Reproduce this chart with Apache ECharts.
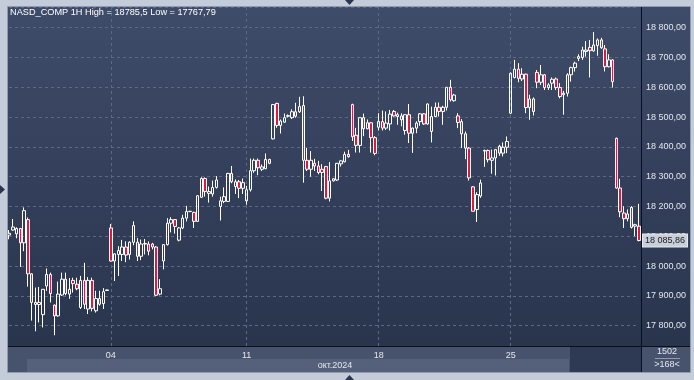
<!DOCTYPE html>
<html>
<head>
<meta charset="utf-8">
<script src="https://cdn.jsdelivr.net/npm/echarts@6/dist/echarts.min.js"></script>
<style>
html,body{margin:0;padding:0;background:#c3ccd8;}
#chart{width:694px;height:380px;}
</style>
</head>
<body>
<div id="chart"></div>
<script>
// ---- data (NASD_COMP, 1H bars, 168 visible) ----
const opens = [
18104,18121,18108,18126,18078,18156,17974,17878,17871,17837,
17933,17972,17869,17833,17903,17956,17906,17952,17939,17861,
17952,17856,17952,17850,17891,17874,17918,18128,18017,18039,
18039,18064,18039,18080,18080,18033,18074,18074,18074,18064,
17906,18017,18072,18144,18156,18087,18128,18161,18183,18180,
18150,18231,18294,18244,18242,18264,18200,18217,18217,18311,
18267,18283,18261,18219,18256,18320,18355,18325,18327,18358,
18427,18546,18472,18483,18503,18498,18518,18518,18539,18355,
18325,18345,18336,18325,18334,18228,18286,18289,18343,18350,
18375,18542,18439,18405,18498,18461,18481,18431,18466,18485,
18463,18477,18519,18502,18504,18455,18508,18446,18463,18485,
18511,18477,18452,18502,18533,18519,18533,18600,18555,18504,
18485,18444,18396,18266,18190,18235,18386,18388,18355,18363,
18402,18379,18399,18513,18633,18661,18628,18644,18532,18561,
18650,18617,18642,18599,18614,18628,18599,18575,18580,18642,
18666,18697,18700,18720,18734,18722,18740,18759,18729,18669,
18692,18429,18262,18178,18159,18197,18134,18134
];
const closes = [
18110,18131,18126,18078,18186,17974,17878,17871,17878,17922,
17972,17908,17833,17906,17956,17908,17922,17941,17924,17952,
17872,17952,17858,17891,17872,17914,17920,18017,18041,18052,
18064,18037,18080,18136,18033,18074,18076,18050,18064,17902,
17924,18072,18144,18156,18133,18128,18161,18183,18184,18150,
18236,18294,18250,18250,18264,18289,18219,18233,18311,18283,
18283,18261,18280,18256,18320,18355,18330,18333,18358,18345,
18542,18472,18487,18498,18505,18518,18503,18535,18355,18325,
18355,18336,18314,18314,18228,18286,18293,18345,18353,18375,
18367,18434,18405,18498,18461,18481,18431,18378,18485,18463,
18480,18510,18504,18508,18491,18508,18446,18463,18480,18511,
18477,18544,18502,18533,18519,18533,18600,18558,18574,18482,
18444,18396,18296,18184,18240,18279,18388,18357,18363,18391,
18379,18399,18418,18647,18661,18630,18644,18532,18561,18519,
18617,18642,18599,18608,18627,18599,18569,18580,18642,18666,
18681,18703,18725,18725,18723,18742,18759,18733,18669,18692,
18619,18262,18182,18159,18175,18130,18139,18085.86
];
const lows = [
18090,18119,18093,17997,18050,17931,17817,17781,17811,17794,
17917,17878,17767.79,17830,17900,17902,17890,17911,17919,17856,
17856,17839,17848,17844,17867,17856,17917,18015,17950,17967,
18017,18013,18022,18070,18017,18020,18039,18036,18056,17900,
17902,17989,18069,18113,18109,18083,18124,18150,18181,18128,
18148,18229,18233,18213,18233,18260,18153,18211,18215,18278,
18242,18228,18242,18206,18250,18313,18305,18319,18325,18342,
18425,18464,18445,18481,18499,18494,18498,18514,18280,18319,
18300,18319,18308,18252,18224,18217,18284,18286,18334,18348,
18364,18420,18381,18381,18436,18459,18381,18372,18455,18455,
18457,18455,18502,18474,18469,18441,18413,18380,18446,18471,
18474,18474,18415,18500,18502,18474,18522,18552,18552,18463,
18396,18359,18287,18184,18148,18229,18333,18348,18310,18304,
18370,18368,18379,18510,18630,18617,18621,18513,18491,18505,
18597,18608,18591,18591,18591,18591,18563,18508,18569,18619,
18653,18688,18692,18703,18633,18720,18706,18729,18653,18667,
18599,18260,18164,18128,18150,18126,18100,18083
];
const highs = [
18121,18158,18130,18128,18197,18163,17976,17928,17930,17923,
17992,17978,17871,17948,17978,17978,17960,17961,17961,17967,
18011,17963,17961,17917,17917,17926,17921,18141,18043,18067,
18088,18083,18083,18150,18094,18089,18091,18083,18078,18067,
17956,18074,18161,18164,18158,18131,18172,18202,18185,18183,
18238,18298,18298,18267,18287,18302,18233,18264,18313,18336,
18291,18289,18294,18269,18361,18361,18361,18341,18378,18360,
18544,18548,18492,18512,18509,18526,18548,18568,18570,18397,
18386,18360,18353,18342,18336,18349,18295,18346,18355,18384,
18390,18545,18464,18498,18512,18492,18483,18436,18513,18522,
18519,18524,18524,18515,18513,18508,18544,18465,18486,18513,
18513,18546,18535,18549,18549,18538,18600,18625,18578,18513,
18493,18452,18399,18268,18248,18290,18391,18391,18391,18391,
18407,18415,18435,18650,18692,18681,18664,18646,18575,18566,
18658,18675,18644,18614,18633,18633,18614,18588,18647,18669,
18686,18711,18736,18755,18759,18785.5,18764,18766,18742,18711,
18694,18431,18293,18201,18190,18201,18142,18209
];
// category per hourly bar
const categories = opens.map((_, i) => 'bar ' + (i + 1));
// day ticks on the time axis
const tickIndex  = [27, 63, 98, 133];
const tickLabels = ['04', '11', '18', '25'];
const monthLabel = 'окт.2024';
const titleText = 'NASD_COMP 1H High = 18785,5 Low = 17767,79';
const barsTotalText = '1502';
const barsVisibleText = '>168<';

// ---- build ----
function fmt(v) {
  const s = Number(v).toFixed(2).split('.');
  return s[0].replace(/\B(?=(\d{3})+(?!\d))/g, ' ') + ',' + s[1];
}
const candleData = opens.map((o, i) => [o, closes[i], lows[i], highs[i]]);
const lastClose = closes[closes.length - 1];

const FONT = '"Liberation Sans", Arial, sans-serif';
const chart = echarts.init(document.getElementById('chart'), null, {renderer: 'canvas'});
const bgGrad = new echarts.graphic.LinearGradient(0, 0, 0, 1, [
  {offset: 0, color: '#3f4c69'}, {offset: 1, color: '#29344d'}
]);
const bgGrad2 = new echarts.graphic.LinearGradient(0, 0, 0, 1, [
  {offset: 0, color: '#3f4c69'}, {offset: 1, color: '#29344d'}
]);

chart.setOption({
  animation: false,
  backgroundColor: '#c3ccd8',
  textStyle: {fontFamily: FONT},
  grid: {left: 9, right: 55, top: 7, bottom: 34, containLabel: false},
  xAxis: {
    type: 'category',
    data: categories,
    boundaryGap: false,
    axisLine: {show: false},
    axisTick: {show: false},
    axisLabel: {
      interval: (i) => tickIndex.indexOf(i) >= 0,
      formatter: (v, i) => tickLabels[tickIndex.indexOf(i)] || '',
      color: '#e3e8ef', fontSize: 9, margin: 5, fontFamily: FONT
    },
    splitLine: {
      show: true,
      interval: (i) => tickIndex.indexOf(i) >= 0,
      lineStyle: {color: '#5c6986', width: 1, type: [3, 3]}
    }
  },
  yAxis: {
    type: 'value',
    position: 'right',
    scale: true,
    min: 17731.8,
    max: 18869.5,
    splitNumber: 11,
    minInterval: 100,
    maxInterval: 100,
    axisLine: {show: false},
    axisTick: {show: false},
    axisLabel: {
      formatter: fmt, color: '#e3e8ef', fontSize: 9, margin: 7,
      showMinLabel: false, showMaxLabel: false, fontFamily: FONT
    },
    splitLine: {show: true, lineStyle: {color: '#5c6986', width: 1, type: [3, 3]}}
  },
  series: [{
    type: 'candlestick',
    data: candleData,
    barWidth: 3,
    clip: false,
    itemStyle: {
      color: 'rgba(0,0,0,0)',
      color0: '#e3173e',
      borderColor: '#ffffff',
      borderColor0: '#ffffff',
      borderColorDoji: '#ffffff',
      borderWidth: 1
    },
    markLine: {
      silent: true,
      symbol: 'none',
      data: [{yAxis: lastClose}],
      lineStyle: {color: 'rgba(0,0,0,0)', width: 1, type: 'solid'},
      label: {
        show: true,
        position: 'end', distance: 4,
        formatter: () => fmt(lastClose),
        backgroundColor: '#c9d0da', color: '#1a1a1a',
        borderColor: '#e6eaf0', borderWidth: 1,
        padding: [2, 2, 1, 2], fontSize: 9, fontFamily: FONT
      }
    }
  }],
  graphic: {
    elements: [
      {type: 'rect', z: -20, shape: {x: 8, y: 7, width: 633, height: 339}, style: {fill: bgGrad}},
      {type: 'rect', z: -20, shape: {x: 641, y: 7, width: 49, height: 339}, style: {fill: bgGrad2}},
      {type: 'rect', z: -20, shape: {x: 8, y: 346, width: 633, height: 26}, style: {fill: '#47536d'}},
      {type: 'rect', z: -19, shape: {x: 27, y: 359, width: 542, height: 13}, style: {fill: '#55617b'}},
      {type: 'rect', z: -19, shape: {x: 570, y: 347, width: 71, height: 25}, style: {fill: '#2e3953'}},
      {type: 'rect', z: -20, shape: {x: 641, y: 346, width: 49, height: 26}, style: {fill: '#47536d'}},
      {type: 'rect', z: 50, shape: {x: 7.5, y: 6.5, width: 683, height: 366}, style: {fill: null, stroke: '#8f9bad', lineWidth: 1}},
      {type: 'line', z: 50, shape: {x1: 641.5, y1: 7, x2: 641.5, y2: 372}, style: {stroke: '#0b0f18', lineWidth: 1}},
      {type: 'line', z: 50, shape: {x1: 8, y1: 346.5, x2: 690, y2: 346.5}, style: {stroke: '#0b0f18', lineWidth: 1}},
      {type: 'line', z: 50, shape: {x1: 655, y1: 358.5, x2: 680, y2: 358.5}, style: {stroke: '#8e9ab0', lineWidth: 1}},
      {type: 'text', z: 60, x: 10, y: 8, style: {text: titleText, fill: '#ffffff', font: '9.2px ' + FONT, textVerticalAlign: 'top'}},
      {type: 'text', z: 60, x: 335, y: 365.5, style: {text: monthLabel, fill: '#e3e8ef', font: '9px ' + FONT, textAlign: 'center', textVerticalAlign: 'middle'}},
      {type: 'text', z: 60, x: 667, y: 352, style: {text: barsTotalText, fill: '#e3e8ef', font: '9px ' + FONT, textAlign: 'center', textVerticalAlign: 'middle'}},
      {type: 'text', z: 60, x: 667, y: 365, style: {text: barsVisibleText, fill: '#e3e8ef', font: '9px ' + FONT, textAlign: 'center', textVerticalAlign: 'middle'}},
      {type: 'polygon', z: 60, shape: {points: [[345, 0], [354, 0], [349.5, 5]]}, style: {fill: '#2a3550'}},
      {type: 'polygon', z: 60, shape: {points: [[0, 185], [0, 194], [5, 189.5]]}, style: {fill: '#2a3550'}},
      {type: 'polygon', z: 60, shape: {points: [[345, 380], [354, 380], [349.5, 375]]}, style: {fill: '#2a3550'}}
    ]
  }
});
</script>
</body>
</html>
